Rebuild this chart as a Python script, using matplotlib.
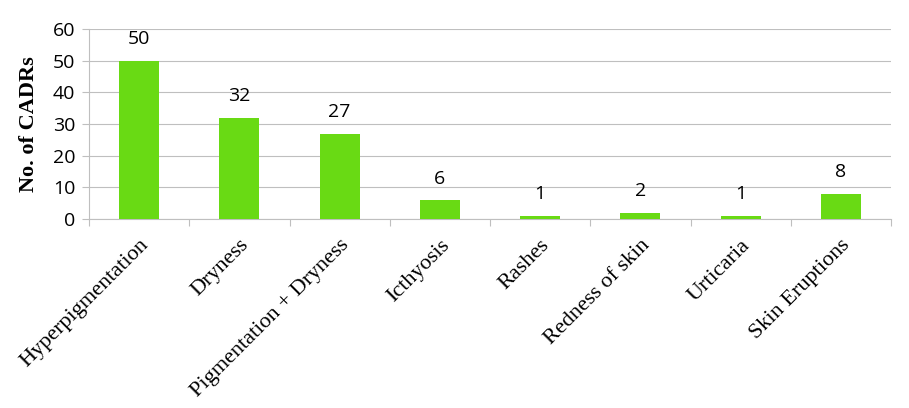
import matplotlib
matplotlib.use("Agg")
import matplotlib.pyplot as plt
import numpy as np

categories = ["Hyperpigmentation", "Dryness", "Pigmentation + Dryness", "Icthyosis",
              "Rashes", "Redness of skin", "Urticaria", "Skin Eruptions"]
values = [50, 32, 27, 6, 1, 2, 1, 8]
yticks = [0, 10, 20, 30, 40, 50, 60]

fig = plt.figure(figsize=(9.09, 4.08), dpi=100)
ax = fig.add_axes([89/909, 1 - 219/408, (891-89)/909, (219-29)/408])

x = np.arange(len(categories))
ax.bar(x, values, width=0.4, color="#69DA14", zorder=3)
for xi, v in zip(x, values):
    ax.annotate(str(v), (xi, v), xytext=(0, 9), textcoords="offset points",
                ha="center", va="bottom", fontsize=14, family="Open Sans")

ax.set_xlim(-0.5, len(categories) - 0.5)
ax.set_ylim(0, 60)
ax.set_yticks(yticks)
ax.set_yticklabels([str(t) for t in yticks], family="Open Sans", fontsize=14)
ax.grid(axis="y", color="#BFBFBF", linewidth=0.8, zorder=0)
for s in ["top", "right"]:
    ax.spines[s].set_visible(False)
ax.spines["left"].set_color("#BFBFBF")
ax.spines["bottom"].set_color("#BFBFBF")
ax.tick_params(axis="y", length=5, color="#BFBFBF", pad=5)

# x ticks at category boundaries, labels at centers
ax.set_xticks(np.arange(len(categories) + 1) - 0.5)
ax.set_xticklabels([])
ax.tick_params(axis="x", which="major", length=5, color="#BFBFBF")
ax.set_xticks(x, minor=True)
ax.set_xticklabels(categories, minor=True, rotation=45, ha="right",
                   rotation_mode="anchor", family="Liberation Serif", fontsize=16)
ax.tick_params(axis="x", which="minor", length=0, pad=12)

ax.set_ylabel("No. of CADRs", family="Liberation Serif", fontweight="bold",
              fontsize=16, labelpad=10)

fig.savefig("out.png", dpi=100)
